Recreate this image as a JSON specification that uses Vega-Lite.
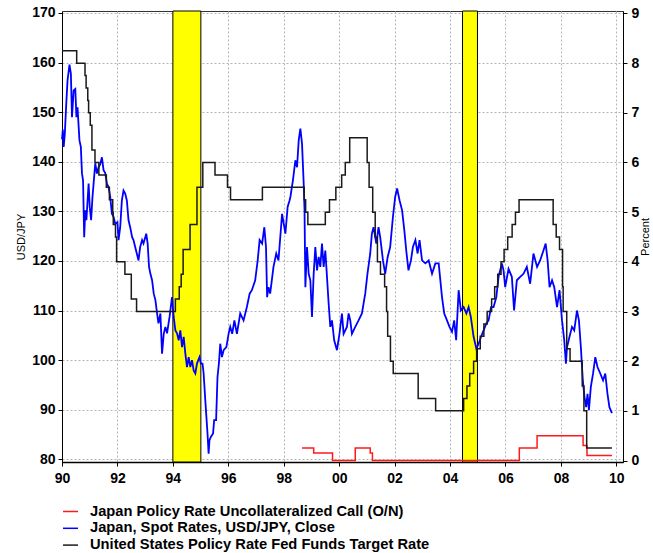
{
  "$schema": "https://vega.github.io/schema/vega-lite/v6.json",
  "width": 561,
  "height": 451,
  "autosize": {"type": "none"},
  "padding": {"left": 62, "top": 11, "right": 30, "bottom": 91},
  "background": "white",
  "config": {
    "font": "Liberation Sans",
    "view": {"stroke": "#333333", "strokeWidth": 1},
    "axis": {
      "labelFont": "Liberation Sans",
      "labelFontSize": 14,
      "labelFontWeight": "bold",
      "labelColor": "#000000",
      "domainColor": "#000000",
      "tickColor": "#000000",
      "tickSize": 4,
      "gridColor": "#b4b4b4",
      "gridDash": [2, 2],
      "gridWidth": 1,
      "titleFont": "Liberation Sans",
      "titleFontSize": 11,
      "titleFontWeight": "normal",
      "titleColor": "#000000",
      "labelFlush": false,
      "labelOverlap": false
    },
    "legend": {
      "orient": "none",
      "legendX": 0,
      "legendY": 492,
      "title": null,
      "symbolType": "stroke",
      "symbolStrokeWidth": 1.5,
      "symbolSize": 225,
      "labelFont": "Liberation Sans",
      "labelFontSize": 14.7,
      "labelFontWeight": "bold",
      "labelColor": "#000000",
      "labelOffset": 11,
      "rowPadding": 0.8,
      "padding": 0,
      "labelLimit": 500
    }
  },
  "datasets": {
    "bands": [
      {"start": 1994.0, "end": 1995.01},
      {"start": 2004.45, "end": 2004.99}
    ],
    "usd": [
      {"year": 1990.00, "v": 144.5}, {"year": 1990.03, "v": 146.5}, {"year": 1990.06, "v": 143.0}, {"year": 1990.10, "v": 145.5},
      {"year": 1990.16, "v": 152.4}, {"year": 1990.20, "v": 156.4}, {"year": 1990.27, "v": 159.6}, {"year": 1990.32, "v": 157.8},
      {"year": 1990.36, "v": 149.0}, {"year": 1990.42, "v": 154.4}, {"year": 1990.48, "v": 154.7}, {"year": 1990.52, "v": 149.0},
      {"year": 1990.56, "v": 151.0}, {"year": 1990.63, "v": 144.3}, {"year": 1990.68, "v": 143.0}, {"year": 1990.72, "v": 137.7},
      {"year": 1990.76, "v": 136.2}, {"year": 1990.80, "v": 124.8}, {"year": 1990.84, "v": 130.2}, {"year": 1990.88, "v": 128.2},
      {"year": 1990.96, "v": 135.6}, {"year": 1991.00, "v": 130.9}, {"year": 1991.05, "v": 128.2}, {"year": 1991.10, "v": 132.9},
      {"year": 1991.14, "v": 135.6}, {"year": 1991.20, "v": 139.7}, {"year": 1991.26, "v": 137.6}, {"year": 1991.32, "v": 138.9},
      {"year": 1991.38, "v": 139.5}, {"year": 1991.44, "v": 140.9}, {"year": 1991.50, "v": 138.3}, {"year": 1991.56, "v": 137.7},
      {"year": 1991.62, "v": 135.6}, {"year": 1991.68, "v": 134.9}, {"year": 1991.74, "v": 132.9}, {"year": 1991.80, "v": 129.5},
      {"year": 1991.86, "v": 128.9}, {"year": 1991.92, "v": 127.5}, {"year": 1992.00, "v": 127.8}, {"year": 1992.04, "v": 124.2},
      {"year": 1992.10, "v": 126.8}, {"year": 1992.16, "v": 132.2}, {"year": 1992.22, "v": 134.2}, {"year": 1992.28, "v": 133.6},
      {"year": 1992.34, "v": 132.2}, {"year": 1992.40, "v": 128.2}, {"year": 1992.46, "v": 126.8}, {"year": 1992.53, "v": 124.8},
      {"year": 1992.58, "v": 124.2}, {"year": 1992.64, "v": 122.8}, {"year": 1992.73, "v": 120.8}, {"year": 1992.76, "v": 120.1},
      {"year": 1992.82, "v": 122.8}, {"year": 1992.89, "v": 124.2}, {"year": 1992.94, "v": 123.5}, {"year": 1993.04, "v": 125.5},
      {"year": 1993.09, "v": 123.5}, {"year": 1993.14, "v": 118.8}, {"year": 1993.19, "v": 117.4}, {"year": 1993.25, "v": 116.1},
      {"year": 1993.31, "v": 113.4}, {"year": 1993.37, "v": 112.1}, {"year": 1993.43, "v": 109.4}, {"year": 1993.48, "v": 107.4},
      {"year": 1993.55, "v": 109.4}, {"year": 1993.61, "v": 101.3}, {"year": 1993.67, "v": 105.3}, {"year": 1993.73, "v": 106.7},
      {"year": 1993.79, "v": 105.4}, {"year": 1993.88, "v": 108.7}, {"year": 1993.97, "v": 112.7}, {"year": 1994.03, "v": 108.7},
      {"year": 1994.09, "v": 106.0}, {"year": 1994.15, "v": 105.4}, {"year": 1994.21, "v": 104.0}, {"year": 1994.27, "v": 106.0},
      {"year": 1994.33, "v": 102.6}, {"year": 1994.39, "v": 104.7}, {"year": 1994.45, "v": 101.3}, {"year": 1994.51, "v": 98.6},
      {"year": 1994.57, "v": 100.6}, {"year": 1994.63, "v": 98.6}, {"year": 1994.69, "v": 100.0}, {"year": 1994.75, "v": 97.9},
      {"year": 1994.81, "v": 97.3}, {"year": 1994.87, "v": 99.3}, {"year": 1994.96, "v": 100.6}, {"year": 1995.01, "v": 99.3},
      {"year": 1995.07, "v": 99.3}, {"year": 1995.11, "v": 97.3}, {"year": 1995.17, "v": 91.9}, {"year": 1995.21, "v": 88.5},
      {"year": 1995.25, "v": 85.2}, {"year": 1995.29, "v": 81.1}, {"year": 1995.32, "v": 83.8}, {"year": 1995.37, "v": 84.5},
      {"year": 1995.45, "v": 85.2}, {"year": 1995.49, "v": 87.9}, {"year": 1995.56, "v": 87.9}, {"year": 1995.61, "v": 96.6},
      {"year": 1995.66, "v": 99.3}, {"year": 1995.71, "v": 103.3}, {"year": 1995.77, "v": 100.6}, {"year": 1995.83, "v": 102.0},
      {"year": 1995.93, "v": 102.6}, {"year": 1996.01, "v": 105.3}, {"year": 1996.07, "v": 106.7}, {"year": 1996.14, "v": 105.3},
      {"year": 1996.22, "v": 108.0}, {"year": 1996.31, "v": 105.3}, {"year": 1996.43, "v": 109.4}, {"year": 1996.55, "v": 108.0},
      {"year": 1996.67, "v": 110.7}, {"year": 1996.77, "v": 113.4}, {"year": 1996.85, "v": 114.1}, {"year": 1996.97, "v": 116.1},
      {"year": 1997.06, "v": 120.1}, {"year": 1997.13, "v": 124.2}, {"year": 1997.22, "v": 123.5}, {"year": 1997.30, "v": 126.8},
      {"year": 1997.36, "v": 122.8}, {"year": 1997.40, "v": 112.7}, {"year": 1997.45, "v": 114.7}, {"year": 1997.51, "v": 113.4},
      {"year": 1997.63, "v": 118.8}, {"year": 1997.73, "v": 121.5}, {"year": 1997.81, "v": 120.1}, {"year": 1997.94, "v": 129.5},
      {"year": 1998.06, "v": 125.5}, {"year": 1998.14, "v": 130.9}, {"year": 1998.21, "v": 132.2}, {"year": 1998.24, "v": 132.9},
      {"year": 1998.33, "v": 136.2}, {"year": 1998.42, "v": 140.3}, {"year": 1998.48, "v": 138.9}, {"year": 1998.54, "v": 144.3},
      {"year": 1998.60, "v": 146.7}, {"year": 1998.66, "v": 143.6}, {"year": 1998.72, "v": 135.6}, {"year": 1998.75, "v": 130.2},
      {"year": 1998.78, "v": 114.7}, {"year": 1998.84, "v": 122.8}, {"year": 1998.90, "v": 117.4}, {"year": 1998.96, "v": 116.1},
      {"year": 1999.02, "v": 108.7}, {"year": 1999.08, "v": 117.4}, {"year": 1999.14, "v": 122.8}, {"year": 1999.20, "v": 118.1},
      {"year": 1999.26, "v": 120.8}, {"year": 1999.32, "v": 118.8}, {"year": 1999.38, "v": 123.5}, {"year": 1999.44, "v": 118.8},
      {"year": 1999.50, "v": 122.1}, {"year": 1999.56, "v": 116.8}, {"year": 1999.62, "v": 111.4}, {"year": 1999.68, "v": 106.7},
      {"year": 1999.74, "v": 108.0}, {"year": 1999.82, "v": 104.0}, {"year": 1999.92, "v": 102.0}, {"year": 2000.01, "v": 105.3},
      {"year": 2000.10, "v": 109.4}, {"year": 2000.16, "v": 105.3}, {"year": 2000.22, "v": 106.0}, {"year": 2000.28, "v": 106.7},
      {"year": 2000.34, "v": 109.4}, {"year": 2000.40, "v": 108.0}, {"year": 2000.46, "v": 105.3}, {"year": 2000.58, "v": 106.7},
      {"year": 2000.70, "v": 108.0}, {"year": 2000.82, "v": 109.4}, {"year": 2000.94, "v": 113.4}, {"year": 2001.02, "v": 117.4},
      {"year": 2001.12, "v": 121.5}, {"year": 2001.18, "v": 125.5}, {"year": 2001.24, "v": 126.8}, {"year": 2001.34, "v": 123.5},
      {"year": 2001.42, "v": 126.8}, {"year": 2001.48, "v": 124.8}, {"year": 2001.58, "v": 120.1}, {"year": 2001.66, "v": 117.4},
      {"year": 2001.75, "v": 120.8}, {"year": 2001.84, "v": 122.8}, {"year": 2001.94, "v": 128.9}, {"year": 2002.02, "v": 132.9},
      {"year": 2002.09, "v": 134.6}, {"year": 2002.18, "v": 132.2}, {"year": 2002.27, "v": 130.2}, {"year": 2002.35, "v": 126.2},
      {"year": 2002.42, "v": 122.1}, {"year": 2002.50, "v": 118.1}, {"year": 2002.59, "v": 120.1}, {"year": 2002.66, "v": 122.8},
      {"year": 2002.75, "v": 124.2}, {"year": 2002.83, "v": 121.5}, {"year": 2002.90, "v": 124.2}, {"year": 2002.99, "v": 120.1},
      {"year": 2003.11, "v": 119.5}, {"year": 2003.23, "v": 120.1}, {"year": 2003.35, "v": 117.4}, {"year": 2003.47, "v": 119.5},
      {"year": 2003.59, "v": 119.5}, {"year": 2003.71, "v": 112.7}, {"year": 2003.79, "v": 109.4}, {"year": 2003.89, "v": 108.0},
      {"year": 2003.98, "v": 106.7}, {"year": 2004.07, "v": 105.7}, {"year": 2004.15, "v": 108.0}, {"year": 2004.22, "v": 104.0},
      {"year": 2004.31, "v": 114.1}, {"year": 2004.39, "v": 110.0}, {"year": 2004.49, "v": 110.7}, {"year": 2004.59, "v": 109.4},
      {"year": 2004.67, "v": 110.7}, {"year": 2004.75, "v": 108.7}, {"year": 2004.85, "v": 104.7}, {"year": 2004.95, "v": 102.3},
      {"year": 2005.03, "v": 103.3}, {"year": 2005.12, "v": 104.7}, {"year": 2005.21, "v": 106.0}, {"year": 2005.31, "v": 107.4},
      {"year": 2005.39, "v": 108.0}, {"year": 2005.48, "v": 110.7}, {"year": 2005.57, "v": 110.7}, {"year": 2005.67, "v": 112.7},
      {"year": 2005.75, "v": 116.8}, {"year": 2005.87, "v": 119.5}, {"year": 2005.93, "v": 118.1}, {"year": 2005.99, "v": 114.7},
      {"year": 2006.11, "v": 118.4}, {"year": 2006.23, "v": 116.8}, {"year": 2006.31, "v": 110.0}, {"year": 2006.41, "v": 116.1},
      {"year": 2006.53, "v": 116.8}, {"year": 2006.65, "v": 117.4}, {"year": 2006.77, "v": 118.8}, {"year": 2006.89, "v": 115.4},
      {"year": 2007.01, "v": 121.5}, {"year": 2007.14, "v": 118.8}, {"year": 2007.25, "v": 120.1}, {"year": 2007.37, "v": 122.1},
      {"year": 2007.45, "v": 123.5}, {"year": 2007.52, "v": 120.1}, {"year": 2007.59, "v": 114.7}, {"year": 2007.68, "v": 116.1},
      {"year": 2007.76, "v": 114.7}, {"year": 2007.86, "v": 110.7}, {"year": 2007.95, "v": 114.1}, {"year": 2008.04, "v": 108.0},
      {"year": 2008.12, "v": 104.0}, {"year": 2008.18, "v": 99.3}, {"year": 2008.22, "v": 102.6}, {"year": 2008.31, "v": 104.7},
      {"year": 2008.40, "v": 106.7}, {"year": 2008.48, "v": 106.0}, {"year": 2008.58, "v": 110.0}, {"year": 2008.65, "v": 108.0},
      {"year": 2008.72, "v": 102.6}, {"year": 2008.79, "v": 95.9}, {"year": 2008.85, "v": 92.6}, {"year": 2008.91, "v": 90.5},
      {"year": 2008.96, "v": 93.2}, {"year": 2009.01, "v": 89.9}, {"year": 2009.08, "v": 94.6}, {"year": 2009.16, "v": 97.3},
      {"year": 2009.24, "v": 100.6}, {"year": 2009.32, "v": 98.6}, {"year": 2009.42, "v": 97.3}, {"year": 2009.52, "v": 95.9},
      {"year": 2009.60, "v": 97.3}, {"year": 2009.68, "v": 93.2}, {"year": 2009.75, "v": 90.5}, {"year": 2009.84, "v": 89.3}
    ],
    "rates": [
      {"s": "Japan Policy Rate Uncollateralized Call (O/N)", "year": 1998.66, "r": 0.25},
      {"s": "Japan Policy Rate Uncollateralized Call (O/N)", "year": 1999.08, "r": 0.15},
      {"s": "Japan Policy Rate Uncollateralized Call (O/N)", "year": 1999.76, "r": 0.0},
      {"s": "Japan Policy Rate Uncollateralized Call (O/N)", "year": 2000.58, "r": 0.25},
      {"s": "Japan Policy Rate Uncollateralized Call (O/N)", "year": 2001.12, "r": 0.15},
      {"s": "Japan Policy Rate Uncollateralized Call (O/N)", "year": 2001.20, "r": 0.0},
      {"s": "Japan Policy Rate Uncollateralized Call (O/N)", "year": 2006.50, "r": 0.25},
      {"s": "Japan Policy Rate Uncollateralized Call (O/N)", "year": 2007.14, "r": 0.5},
      {"s": "Japan Policy Rate Uncollateralized Call (O/N)", "year": 2008.80, "r": 0.3},
      {"s": "Japan Policy Rate Uncollateralized Call (O/N)", "year": 2008.94, "r": 0.1},
      {"s": "Japan Policy Rate Uncollateralized Call (O/N)", "year": 2009.84, "r": 0.1},
      {"s": "United States Policy Rate Fed Funds Target Rate", "year": 1990.00, "r": 8.25},
      {"s": "United States Policy Rate Fed Funds Target Rate", "year": 1990.53, "r": 8.0},
      {"s": "United States Policy Rate Fed Funds Target Rate", "year": 1990.83, "r": 7.75},
      {"s": "United States Policy Rate Fed Funds Target Rate", "year": 1990.87, "r": 7.5},
      {"s": "United States Policy Rate Fed Funds Target Rate", "year": 1990.93, "r": 7.25},
      {"s": "United States Policy Rate Fed Funds Target Rate", "year": 1990.96, "r": 7.0},
      {"s": "United States Policy Rate Fed Funds Target Rate", "year": 1991.02, "r": 6.75},
      {"s": "United States Policy Rate Fed Funds Target Rate", "year": 1991.08, "r": 6.25},
      {"s": "United States Policy Rate Fed Funds Target Rate", "year": 1991.19, "r": 6.0},
      {"s": "United States Policy Rate Fed Funds Target Rate", "year": 1991.33, "r": 5.75},
      {"s": "United States Policy Rate Fed Funds Target Rate", "year": 1991.60, "r": 5.5},
      {"s": "United States Policy Rate Fed Funds Target Rate", "year": 1991.71, "r": 5.25},
      {"s": "United States Policy Rate Fed Funds Target Rate", "year": 1991.83, "r": 5.0},
      {"s": "United States Policy Rate Fed Funds Target Rate", "year": 1991.85, "r": 4.75},
      {"s": "United States Policy Rate Fed Funds Target Rate", "year": 1991.93, "r": 4.5},
      {"s": "United States Policy Rate Fed Funds Target Rate", "year": 1991.97, "r": 4.0},
      {"s": "United States Policy Rate Fed Funds Target Rate", "year": 1992.27, "r": 3.75},
      {"s": "United States Policy Rate Fed Funds Target Rate", "year": 1992.50, "r": 3.25},
      {"s": "United States Policy Rate Fed Funds Target Rate", "year": 1992.69, "r": 3.0},
      {"s": "United States Policy Rate Fed Funds Target Rate", "year": 1994.09, "r": 3.25},
      {"s": "United States Policy Rate Fed Funds Target Rate", "year": 1994.23, "r": 3.5},
      {"s": "United States Policy Rate Fed Funds Target Rate", "year": 1994.30, "r": 3.75},
      {"s": "United States Policy Rate Fed Funds Target Rate", "year": 1994.37, "r": 4.25},
      {"s": "United States Policy Rate Fed Funds Target Rate", "year": 1994.62, "r": 4.75},
      {"s": "United States Policy Rate Fed Funds Target Rate", "year": 1994.87, "r": 5.5},
      {"s": "United States Policy Rate Fed Funds Target Rate", "year": 1995.08, "r": 6.0},
      {"s": "United States Policy Rate Fed Funds Target Rate", "year": 1995.52, "r": 5.75},
      {"s": "United States Policy Rate Fed Funds Target Rate", "year": 1995.97, "r": 5.5},
      {"s": "United States Policy Rate Fed Funds Target Rate", "year": 1996.08, "r": 5.25},
      {"s": "United States Policy Rate Fed Funds Target Rate", "year": 1997.23, "r": 5.5},
      {"s": "United States Policy Rate Fed Funds Target Rate", "year": 1998.74, "r": 5.25},
      {"s": "United States Policy Rate Fed Funds Target Rate", "year": 1998.79, "r": 5.0},
      {"s": "United States Policy Rate Fed Funds Target Rate", "year": 1998.87, "r": 4.75},
      {"s": "United States Policy Rate Fed Funds Target Rate", "year": 1999.50, "r": 5.0},
      {"s": "United States Policy Rate Fed Funds Target Rate", "year": 1999.65, "r": 5.25},
      {"s": "United States Policy Rate Fed Funds Target Rate", "year": 1999.88, "r": 5.5},
      {"s": "United States Policy Rate Fed Funds Target Rate", "year": 2000.09, "r": 5.75},
      {"s": "United States Policy Rate Fed Funds Target Rate", "year": 2000.22, "r": 6.0},
      {"s": "United States Policy Rate Fed Funds Target Rate", "year": 2000.38, "r": 6.5},
      {"s": "United States Policy Rate Fed Funds Target Rate", "year": 2001.01, "r": 6.0},
      {"s": "United States Policy Rate Fed Funds Target Rate", "year": 2001.08, "r": 5.5},
      {"s": "United States Policy Rate Fed Funds Target Rate", "year": 2001.21, "r": 5.0},
      {"s": "United States Policy Rate Fed Funds Target Rate", "year": 2001.30, "r": 4.5},
      {"s": "United States Policy Rate Fed Funds Target Rate", "year": 2001.38, "r": 4.0},
      {"s": "United States Policy Rate Fed Funds Target Rate", "year": 2001.49, "r": 3.75},
      {"s": "United States Policy Rate Fed Funds Target Rate", "year": 2001.64, "r": 3.5},
      {"s": "United States Policy Rate Fed Funds Target Rate", "year": 2001.71, "r": 3.0},
      {"s": "United States Policy Rate Fed Funds Target Rate", "year": 2001.75, "r": 2.5},
      {"s": "United States Policy Rate Fed Funds Target Rate", "year": 2001.85, "r": 2.0},
      {"s": "United States Policy Rate Fed Funds Target Rate", "year": 2001.95, "r": 1.75},
      {"s": "United States Policy Rate Fed Funds Target Rate", "year": 2002.85, "r": 1.25},
      {"s": "United States Policy Rate Fed Funds Target Rate", "year": 2003.48, "r": 1.0},
      {"s": "United States Policy Rate Fed Funds Target Rate", "year": 2004.49, "r": 1.25},
      {"s": "United States Policy Rate Fed Funds Target Rate", "year": 2004.61, "r": 1.5},
      {"s": "United States Policy Rate Fed Funds Target Rate", "year": 2004.71, "r": 1.75},
      {"s": "United States Policy Rate Fed Funds Target Rate", "year": 2004.85, "r": 2.0},
      {"s": "United States Policy Rate Fed Funds Target Rate", "year": 2004.96, "r": 2.25},
      {"s": "United States Policy Rate Fed Funds Target Rate", "year": 2005.09, "r": 2.5},
      {"s": "United States Policy Rate Fed Funds Target Rate", "year": 2005.22, "r": 2.75},
      {"s": "United States Policy Rate Fed Funds Target Rate", "year": 2005.34, "r": 3.0},
      {"s": "United States Policy Rate Fed Funds Target Rate", "year": 2005.50, "r": 3.25},
      {"s": "United States Policy Rate Fed Funds Target Rate", "year": 2005.61, "r": 3.5},
      {"s": "United States Policy Rate Fed Funds Target Rate", "year": 2005.72, "r": 3.75},
      {"s": "United States Policy Rate Fed Funds Target Rate", "year": 2005.84, "r": 4.0},
      {"s": "United States Policy Rate Fed Funds Target Rate", "year": 2005.95, "r": 4.25},
      {"s": "United States Policy Rate Fed Funds Target Rate", "year": 2006.08, "r": 4.5},
      {"s": "United States Policy Rate Fed Funds Target Rate", "year": 2006.24, "r": 4.75},
      {"s": "United States Policy Rate Fed Funds Target Rate", "year": 2006.36, "r": 5.0},
      {"s": "United States Policy Rate Fed Funds Target Rate", "year": 2006.49, "r": 5.25},
      {"s": "United States Policy Rate Fed Funds Target Rate", "year": 2007.72, "r": 4.75},
      {"s": "United States Policy Rate Fed Funds Target Rate", "year": 2007.83, "r": 4.5},
      {"s": "United States Policy Rate Fed Funds Target Rate", "year": 2007.95, "r": 4.25},
      {"s": "United States Policy Rate Fed Funds Target Rate", "year": 2008.06, "r": 3.5},
      {"s": "United States Policy Rate Fed Funds Target Rate", "year": 2008.08, "r": 3.0},
      {"s": "United States Policy Rate Fed Funds Target Rate", "year": 2008.21, "r": 2.25},
      {"s": "United States Policy Rate Fed Funds Target Rate", "year": 2008.33, "r": 2.0},
      {"s": "United States Policy Rate Fed Funds Target Rate", "year": 2008.77, "r": 1.5},
      {"s": "United States Policy Rate Fed Funds Target Rate", "year": 2008.83, "r": 1.0},
      {"s": "United States Policy Rate Fed Funds Target Rate", "year": 2008.93, "r": 0.25},
      {"s": "United States Policy Rate Fed Funds Target Rate", "year": 2009.84, "r": 0.25}
    ]
  },
  "layer": [
    {
      "data": {"name": "bands"},
      "mark": {"type": "rect", "color": "#ffff00", "stroke": "#000000", "strokeWidth": 1, "opacity": 1},
      "encoding": {
        "x": {
          "field": "start", "type": "quantitative",
          "scale": {"domain": [1990, 2010.24], "nice": false, "zero": false},
          "axis": {
            "values": [1990, 1991, 1992, 1993, 1994, 1995, 1996, 1997, 1998, 1999, 2000, 2001, 2002, 2003, 2004, 2005, 2006, 2007, 2008, 2009, 2010],
            "labelExpr": "datum.value % 2 == 0 ? slice(toString(datum.value), 2) : ''",
            "grid": true,
            "domainWidth": 1.5,
            "labelPadding": 5,
            "title": null
          }
        },
        "x2": {"field": "end"}
      }
    },
    {
      "data": {"name": "usd"},
      "mark": {"type": "line", "strokeWidth": 1.8, "interpolate": "linear"},
      "encoding": {
        "x": {"field": "year", "type": "quantitative"},
        "y": {
          "field": "v", "type": "quantitative",
          "scale": {"domain": [79.45, 170.4], "nice": false, "zero": false},
          "axis": {
            "orient": "left",
            "values": [80, 90, 100, 110, 120, 130, 140, 150, 160, 170],
            "grid": true,
            "labelPadding": 3,
            "title": "USD/JPY",
            "titleX": -41,
            "titleY": 225.5,
            "titleAngle": -90,
            "titleAlign": "center",
            "titleBaseline": "middle"
          }
        },
        "color": {
          "datum": "Japan, Spot Rates, USD/JPY, Close",
          "type": "nominal",
          "scale": {
            "domain": ["Japan Policy Rate Uncollateralized Call (O/N)", "Japan, Spot Rates, USD/JPY, Close", "United States Policy Rate Fed Funds Target Rate"],
            "range": ["#ff1a1a", "#0000ff", "#1a1a1a"]
          },
          "legend": {"title": null}
        }
      }
    },
    {
      "data": {"name": "rates"},
      "mark": {"type": "line", "strokeWidth": 1.5, "interpolate": "step-after"},
      "encoding": {
        "x": {"field": "year", "type": "quantitative"},
        "y": {
          "field": "r", "type": "quantitative",
          "scale": {"domain": [-0.03, 9.05], "nice": false, "zero": false},
          "axis": {
            "orient": "right",
            "values": [0, 1, 2, 3, 4, 5, 6, 7, 8, 9],
            "grid": false,
            "labelPadding": 4,
            "title": "Percent",
            "titleX": 22,
            "titleY": 225.5,
            "titleAngle": -90,
            "titleAlign": "center",
            "titleBaseline": "middle"
          }
        },
        "color": {"field": "s", "type": "nominal", "title": null, "legend": {"title": null}}
      }
    }
  ],
  "resolve": {"scale": {"y": "independent"}}
}
